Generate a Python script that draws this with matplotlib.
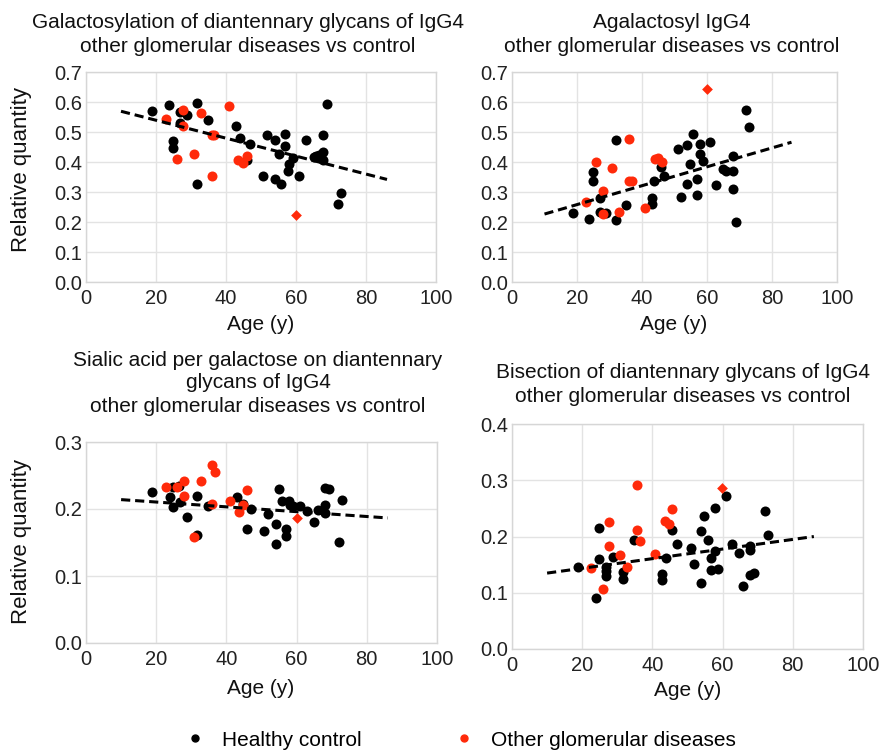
import numpy as np
import matplotlib
matplotlib.use("Agg")
import matplotlib.pyplot as plt
from matplotlib.lines import Line2D

plt.rcParams['font.family'] = ['Liberation Sans', 'DejaVu Sans']

RED = '#ff2a0a'
GRID = '#e3e3e3'

# --- Galactosylation (panneau 1) ---
gal_hc_age = [18.8, 23.7, 31.8, 26.9, 28.8, 34.8, 26.9, 24.8, 24.8, 31.8, 42.9, 44.0,
              46.9, 45.9, 51.8, 54.0, 56.9, 56.9, 55.0, 59.0, 58.1, 57.8, 62.9, 65.7,
              66.7, 67.8, 67.8, 67.8, 68.9, 50.7, 54.0, 55.7, 60.9, 72.9, 71.9, 65.0]
gal_hc_val = [0.569, 0.590, 0.598, 0.567, 0.558, 0.541, 0.530, 0.470, 0.447, 0.328, 0.520, 0.481,
              0.461, 0.406, 0.491, 0.474, 0.494, 0.452, 0.426, 0.414, 0.394, 0.370, 0.472, 0.419,
              0.422, 0.491, 0.433, 0.406, 0.592, 0.354, 0.342, 0.328, 0.353, 0.297, 0.259, 0.417]
gal_ogd_age = [22.9, 27.8, 27.8, 32.9, 40.9, 36.0, 36.7, 25.9, 30.9, 35.9, 43.5, 44.8, 45.9]
gal_ogd_val = [0.542, 0.572, 0.519, 0.564, 0.586, 0.489, 0.489, 0.411, 0.426, 0.352, 0.408, 0.398, 0.420]
gal_out_age = [60.0]
gal_out_val = [0.223]
gal_trend = (-0.00299, 0.599)

# --- Agalactosyl (panneau 2) ---
agal_hc_age = [18.8, 23.8, 25.0, 25.0, 27.0, 27.0, 29.0, 31.9, 31.9, 35.0, 43.0, 43.0,
               43.8, 45.9, 46.9, 51.0, 51.9, 53.9, 53.9, 54.9, 55.8, 56.8, 56.8, 57.8,
               57.8, 58.9, 60.9, 62.9, 64.8, 65.8, 67.9, 67.9, 67.9, 68.9, 72.0, 72.8]
agal_hc_val = [0.229, 0.209, 0.368, 0.337, 0.279, 0.232, 0.229, 0.473, 0.207, 0.258, 0.281, 0.260,
               0.338, 0.384, 0.354, 0.443, 0.284, 0.457, 0.326, 0.393, 0.493, 0.344, 0.289, 0.461,
               0.427, 0.404, 0.468, 0.322, 0.378, 0.371, 0.419, 0.371, 0.310, 0.201, 0.573, 0.516]
agal_ogd_age = [22.9, 25.9, 27.9, 27.9, 30.9, 32.8, 35.9, 35.9, 36.9, 40.9, 43.9, 44.9, 46.1]
agal_ogd_val = [0.268, 0.401, 0.303, 0.228, 0.379, 0.232, 0.477, 0.337, 0.337, 0.246, 0.410, 0.414, 0.401]
agal_out_age = [60.0]
agal_out_val = [0.643]
agal_trend = (0.00315, 0.195)

# --- Sialylation (panneau 3) ---
sia_hc_age = [18.8, 23.8, 24.9, 26.6, 26.8, 24.9, 28.7, 31.7, 31.7, 34.7, 42.9, 44.8,
              46.9, 45.9, 50.8, 51.9, 54.0, 54.0, 55.1, 55.8, 56.9, 56.9, 57.9, 58.9,
              61.0, 63.0, 64.9, 66.1, 68.1, 68.1, 68.1, 69.1, 73.0, 72.0, 58.1]
sia_hc_val = [0.2255, 0.2185, 0.2325, 0.234, 0.210, 0.203, 0.188, 0.219, 0.1615, 0.205, 0.218, 0.208,
              0.200, 0.170, 0.167, 0.1925, 0.178, 0.148, 0.2305, 0.2115, 0.1705, 0.1595, 0.2125, 0.204,
              0.204, 0.1975, 0.181, 0.198, 0.2065, 0.194, 0.231, 0.230, 0.214, 0.1505, 0.2065]
sia_ogd_age = [22.8, 25.9, 27.8, 27.8, 32.9, 35.9, 36.7, 35.9, 30.8, 40.9, 44.8, 43.7, 45.9]
sia_ogd_val = [0.233, 0.2325, 0.2425, 0.220, 0.2415, 0.265, 0.2555, 0.2075, 0.158, 0.2115, 0.2065, 0.195, 0.228]
sia_out_age = [60.0]
sia_out_val = [0.1865]
sia_trend = (-0.00036, 0.2176)

# --- Bisection (panneau 4) ---
bis_hc_age = [18.8, 24.7, 24.7, 23.8, 26.8, 26.8, 26.8, 28.8, 31.7, 31.7, 34.8, 42.8,
              42.8, 43.8, 45.7, 46.9, 50.9, 51.8, 53.8, 53.8, 54.8, 55.8, 56.7, 56.7,
              57.8, 57.8, 58.8, 60.9, 62.8, 64.8, 65.9, 67.8, 67.8, 67.8, 68.9, 72.1, 72.8]
bis_hc_val = [0.146, 0.215, 0.160, 0.091, 0.145, 0.138, 0.129, 0.164, 0.1375, 0.125, 0.193, 0.1335,
              0.123, 0.1625, 0.211, 0.186, 0.180, 0.152, 0.209, 0.118, 0.236, 0.1945, 0.161, 0.1405,
              0.174, 0.2505, 0.142, 0.2715, 0.1875, 0.170, 0.112, 0.183, 0.176, 0.132, 0.135, 0.245, 0.203]
bis_ogd_age = [22.6, 25.8, 27.7, 27.7, 30.7, 32.8, 35.7, 35.7, 36.6, 40.7, 43.5, 44.8, 45.7]
bis_ogd_val = [0.144, 0.106, 0.226, 0.183, 0.168, 0.145, 0.291, 0.212, 0.1915, 0.1695, 0.228, 0.222, 0.2495]
bis_out_age = [59.9]
bis_out_val = [0.2855]
bis_trend = (0.000855, 0.1264)

trend_range = [10, 86]
x_ticks = [0, 20, 40, 60, 80, 100]


def draw_panel(ax, hc_age, hc_val, ogd_age, ogd_val, out_age, out_val, trend, yticks):
    ax.set_facecolor('white')
    ax.grid(True, color=GRID, linewidth=1)
    ax.set_axisbelow(True)
    for sp in ax.spines.values():
        sp.set_color('#d6d6d6')
        sp.set_linewidth(1)

    ax.scatter(hc_age, hc_val, s=52, color='black', linewidths=0, zorder=3)
    ax.scatter(ogd_age, ogd_val, s=52, color=RED, linewidths=0, zorder=4)
    ax.scatter(out_age, out_val, s=30, marker='D', color=RED, linewidths=0, zorder=4)

    xs = np.array(trend_range, dtype=float)
    ax.plot(xs, trend[0] * xs + trend[1], color='black', lw=2.2,
            ls=(0, (3, 1.6)), zorder=5)

    ax.set_xlim(0, 100)
    ax.set_ylim(yticks[0], yticks[-1])
    ax.set_xticks(x_ticks)
    ax.set_yticks(yticks)
    ax.set_yticklabels([f"{t:.1f}" for t in yticks])
    ax.tick_params(length=0, labelsize=14.5, colors='#222222')
    ax.tick_params(axis='x', pad=5)
    ax.tick_params(axis='y', pad=3)


W, H = 882, 756
fig = plt.figure(figsize=(W / 100, H / 100), dpi=100)


def px_axes(left, top, right, bottom):
    return fig.add_axes([left / W, 1 - bottom / H, (right - left) / W, (bottom - top) / H])


ax1 = px_axes(86, 72, 436, 282)
ax2 = px_axes(512, 72, 837, 282)
ax3 = px_axes(86, 442, 437, 643)
ax4 = px_axes(512, 424, 863, 649)

draw_panel(ax1, gal_hc_age, gal_hc_val, gal_ogd_age, gal_ogd_val, gal_out_age, gal_out_val,
           gal_trend, np.round(np.arange(0, 0.71, 0.1), 1))
draw_panel(ax2, agal_hc_age, agal_hc_val, agal_ogd_age, agal_ogd_val, agal_out_age, agal_out_val,
           agal_trend, np.round(np.arange(0, 0.71, 0.1), 1))
draw_panel(ax3, sia_hc_age, sia_hc_val, sia_ogd_age, sia_ogd_val, sia_out_age, sia_out_val,
           sia_trend, np.round(np.arange(0, 0.31, 0.1), 1))
draw_panel(ax4, bis_hc_age, bis_hc_val, bis_ogd_age, bis_ogd_val, bis_out_age, bis_out_val,
           bis_trend, np.round(np.arange(0, 0.41, 0.1), 1))

# titres (une ligne par texte)
titles = [
    (248, [(22, "Galactosylation of diantennary glycans of IgG4"),
           (47, "other glomerular diseases vs control")]),
    (672, [(22, "Agalactosyl IgG4"),
           (47, "other glomerular diseases vs control")]),
    (258, [(360, "Sialic acid per galactose on diantennary"),
           (383, "glycans of IgG4"),
           (406, "other glomerular diseases vs control")]),
    (683, [(372, "Bisection of diantennary glycans of IgG4"),
           (396, "other glomerular diseases vs control")]),
]
for cx, lines in titles:
    for cy, txt in lines:
        fig.text(cx / W, 1 - cy / H, txt, ha='center', va='center', fontsize=15, color='#111111')

# axes labels
for ax, cx, cy in [(ax1, 261, 325), (ax2, 674, 325), (ax3, 261, 688), (ax4, 688, 691)]:
    fig.text(cx / W, 1 - cy / H, "Age (y)", ha='center', va='center', fontsize=15, color='#111111')
for cy in [170, 541]:
    fig.text(22 / W, 1 - cy / H, "Relative quantity", ha='center', va='center',
             rotation=90, fontsize=16, color='#111111')

handles = [Line2D([], [], ls='none', marker='o', color='black', markersize=5),
           Line2D([], [], ls='none', marker='o', color=RED, markersize=5)]
fig.legend(handles, ["Healthy control", "Other glomerular diseases"], ncol=2, frameon=False,
           loc='center', bbox_to_anchor=(460 / W, 1 - 740 / H), fontsize=15,
           handletextpad=0.8, columnspacing=4.4, handlelength=1.0)

fig.savefig("out.png", dpi=100, facecolor='white')
